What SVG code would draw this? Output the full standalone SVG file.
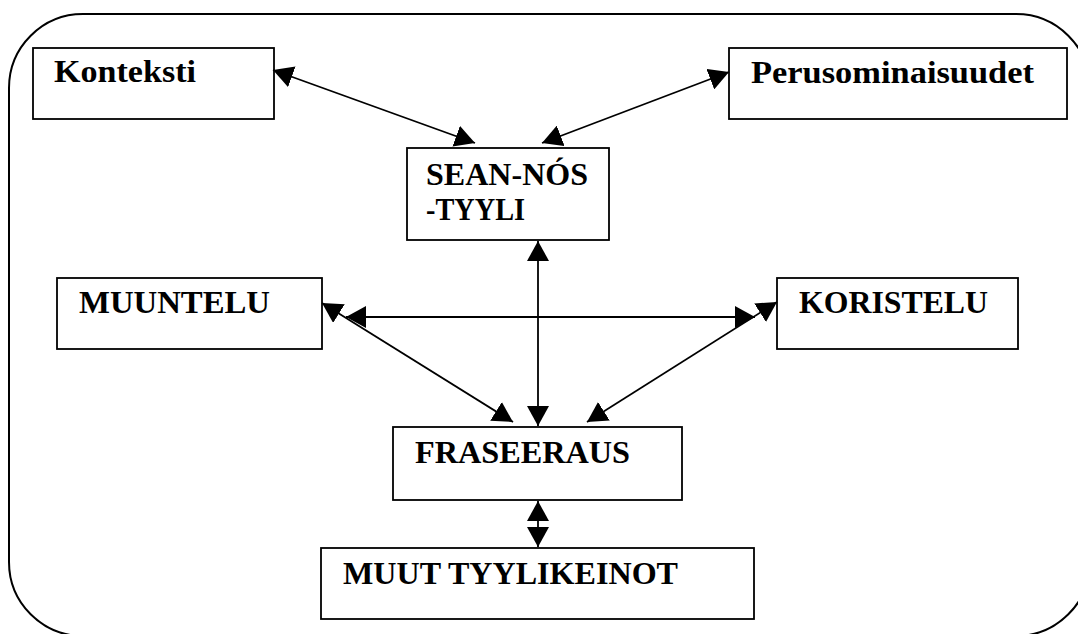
<svg xmlns="http://www.w3.org/2000/svg" width="1078" height="634" viewBox="0 0 1078 634">
<style>
.box{fill:#fff;stroke:#000;stroke-width:1.8}
.lbl{font-family:"Liberation Serif","Times New Roman",serif;font-weight:bold;font-size:32px;fill:#000}
.con{stroke:#000;stroke-width:1.8;fill:none;marker-start:url(#ah);marker-end:url(#ah)}
</style>
<defs>
<marker id="ah" markerUnits="userSpaceOnUse" markerWidth="21" markerHeight="22" refX="20" refY="11" orient="auto-start-reverse" viewBox="0 0 21 22">
<path d="M0,0 L20,11 L0,22 z" fill="#000"/>
</marker>
</defs>
<rect width="1078" height="634" fill="#fff"/>
<rect id="frame" x="9" y="14" width="1081" height="622" rx="74" ry="74" fill="none" stroke="#000" stroke-width="2"/>
<g id="konteksti"><rect class="box" x="33" y="48" width="241" height="71"/><text class="lbl" x="54" y="82" textLength="142" lengthAdjust="spacingAndGlyphs">Konteksti</text></g>
<g id="perusominaisuudet"><rect class="box" x="729" y="48" width="338" height="71"/><text class="lbl" x="751" y="83" textLength="283" lengthAdjust="spacingAndGlyphs">Perusominaisuudet</text></g>
<g id="seannos"><rect class="box" x="407" y="148" width="202" height="92"/><text class="lbl" x="426" y="185" textLength="162" lengthAdjust="spacingAndGlyphs">SEAN-NÓS</text><text class="lbl" x="426" y="220" textLength="99" lengthAdjust="spacingAndGlyphs">-TYYLI</text></g>
<g id="muuntelu"><rect class="box" x="57" y="278" width="265" height="71"/><text class="lbl" x="79" y="313" textLength="191" lengthAdjust="spacingAndGlyphs">MUUNTELU</text></g>
<g id="koristelu"><rect class="box" x="777" y="278" width="241" height="71"/><text class="lbl" x="799" y="313" textLength="189" lengthAdjust="spacingAndGlyphs">KORISTELU</text></g>
<g id="fraseeraus"><rect class="box" x="393" y="427" width="289" height="73"/><text class="lbl" x="415" y="463" textLength="215" lengthAdjust="spacingAndGlyphs">FRASEERAUS</text></g>
<g id="muut"><rect class="box" x="321" y="548" width="433" height="71"/><text class="lbl" x="343" y="584" textLength="335" lengthAdjust="spacingAndGlyphs">MUUT TYYLIKEINOT</text></g>
<g id="connectors">
<line class="con" x1="273" y1="70" x2="475" y2="143"/>
<line class="con" x1="729" y1="72" x2="542" y2="143"/>
<line class="con" x1="538" y1="241" x2="538" y2="426"/>
<line class="con" x1="346" y1="317" x2="755" y2="317"/>
<line class="con" x1="322" y1="303" x2="513" y2="422"/>
<line class="con" x1="777" y1="302" x2="587" y2="422"/>
<line class="con" x1="538" y1="501" x2="538" y2="547"/>
</g>
</svg>
